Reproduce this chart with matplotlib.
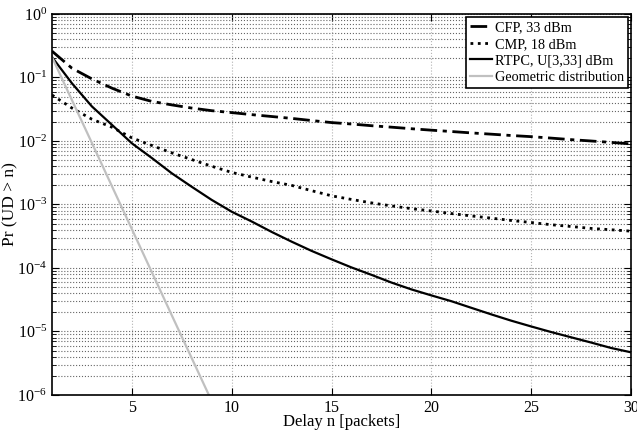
# -*- coding: utf-8 -*-
# 遅延分布 Pr(UD > n) を片対数でプロットする
import numpy as np
import matplotlib
matplotlib.use("Agg")
import matplotlib.pyplot as plt
from matplotlib.ticker import LogLocator, NullFormatter

plt.rcParams['font.family'] = ['Liberation Serif', 'DejaVu Serif']
plt.rcParams['mathtext.fontset'] = 'stix'

# データ
n = np.arange(1, 31)

cfp = [0.26, 0.14, 0.095, 0.068, 0.051, 0.042, 0.037, 0.033, 0.030, 0.028,
       0.026, 0.0243, 0.0227, 0.0210, 0.0195, 0.0185, 0.0174, 0.0165, 0.0156, 0.0148,
       0.0141, 0.0134, 0.0128, 0.0122, 0.0117, 0.0111, 0.0105, 0.0100, 0.0095, 0.0090]

cmp_ = [0.053, 0.033, 0.022, 0.0165, 0.0112, 0.0085, 0.0065, 0.0051, 0.0040, 0.0032,
        0.0027, 0.0023, 0.0020, 0.00165, 0.00137, 0.00120, 0.00106, 0.00095, 0.00086, 0.00079,
        0.00072, 0.00066, 0.00061, 0.00056, 0.00052, 0.00048, 0.00045, 0.00042, 0.00040, 0.00038]

rtpc = [0.21, 0.081, 0.035, 0.018, 0.0092, 0.0054, 0.0031, 0.0019, 0.00118, 0.00077,
        5.4e-4, 3.7e-4, 2.6e-4, 1.86e-4, 1.37e-4, 1.02e-4, 7.8e-5, 5.9e-5, 4.6e-5, 3.7e-5,
        3.0e-5, 2.36e-5, 1.86e-5, 1.48e-5, 1.2e-5, 9.8e-6, 8.1e-6, 6.7e-6, 5.5e-6, 4.7e-6]

geo_n = np.arange(1, 10)
geo = [0.21, 0.044, 0.0093, 0.00195, 4.1e-4, 8.6e-5, 1.8e-5, 3.8e-6, 8.0e-7]

labels = ['CFP, 33 dBm', 'CMP, 18 dBm', 'RTPC, U[3,33] dBm', 'Geometric distribution']

fig = plt.figure(figsize=(6.37, 4.33), dpi=100)
ax = fig.add_axes([0.0816, 0.0878, 0.909, 0.8799])

ax.semilogy(n, cfp, color='k', linestyle=(0, (6, 2, 1.5, 2)), linewidth=2.0, label=labels[0])
ax.semilogy(n, cmp_, color='k', linestyle=':', linewidth=2.0, label=labels[1])
ax.semilogy(n, rtpc, color='k', linestyle='-', linewidth=1.6, label=labels[2])
ax.semilogy(geo_n, geo, color='#c0c0c0', linestyle='-', linewidth=1.6, label=labels[3])

ax.set_xlim(1, 30)
ax.set_ylim(1e-6, 1)
ax.set_xticks([5, 10, 15, 20, 25, 30])
ax.yaxis.set_major_locator(LogLocator(base=10, numticks=10))
ax.yaxis.set_minor_locator(LogLocator(base=10, subs=np.arange(2, 10), numticks=10))
ax.yaxis.set_minor_formatter(NullFormatter())

# グリッド表示
ax.grid(True, which='major', axis='x', color='0.7', linestyle=':', linewidth=0.8)
ax.grid(True, which='both', axis='y', color='0.4', linestyle=':', linewidth=0.8)

ax.tick_params(which='both', direction='in', top=True, right=True, labelsize=11.5)
ax.tick_params(which='major', length=5)
ax.tick_params(which='minor', length=3)
for s in ax.spines.values():
    s.set_linewidth(1.2)

ax.set_xlabel('Delay n [packets]', fontsize=12, labelpad=-1)
ax.set_ylabel('Pr (UD > n)', fontsize=12.5, labelpad=-1)

leg = ax.legend(loc='upper right', fontsize=10.3, handlelength=1.5, handletextpad=0.2,
                borderpad=0.3, labelspacing=0.25, borderaxespad=0.2, fancybox=False,
                framealpha=1)
leg.get_frame().set_edgecolor('k')
leg.get_frame().set_linewidth(1.2)

fig.savefig('out.png', dpi=100)
